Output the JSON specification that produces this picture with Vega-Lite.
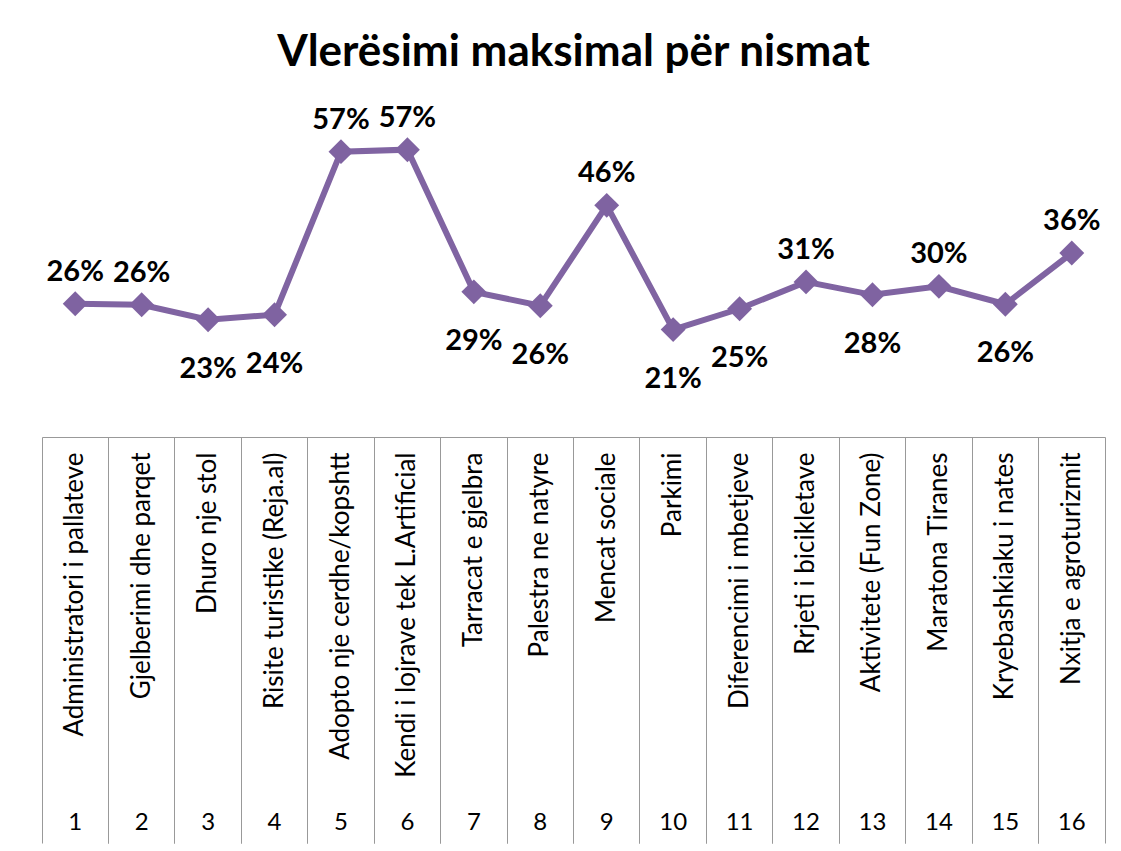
{
  "$schema": "https://vega.github.io/schema/vega-lite/v6.json",
  "padding": {"left": 42, "right": 16, "top": 31, "bottom": 8},
  "background": "white",
  "title": {"text": "Vlerësimi maksimal për nismat", "font": "Lato", "fontSize": 44, "fontWeight": "bold", "color": "#000000", "anchor": "middle", "offset": 21},
  "data": {"values": [
    {"n": 1, "nisma": "Administratori i pallateve", "vlera": 0.262},
    {"n": 2, "nisma": "Gjelberimi dhe parqet", "vlera": 0.260},
    {"n": 3, "nisma": "Dhuro nje stol", "vlera": 0.230},
    {"n": 4, "nisma": "Risite turistike (Reja.al)", "vlera": 0.240},
    {"n": 5, "nisma": "Adopto nje cerdhe/kopshtt", "vlera": 0.568},
    {"n": 6, "nisma": "Kendi i lojrave tek L.Artificial", "vlera": 0.572},
    {"n": 7, "nisma": "Tarracat e gjelbra", "vlera": 0.286},
    {"n": 8, "nisma": "Palestra ne natyre", "vlera": 0.258},
    {"n": 9, "nisma": "Mencat sociale", "vlera": 0.460},
    {"n": 10, "nisma": "Parkimi", "vlera": 0.210},
    {"n": 11, "nisma": "Diferencimi i mbetjeve", "vlera": 0.252},
    {"n": 12, "nisma": "Rrjeti i bicikletave", "vlera": 0.306},
    {"n": 13, "nisma": "Aktivitete (Fun Zone)", "vlera": 0.280},
    {"n": 14, "nisma": "Maratona Tiranes", "vlera": 0.297},
    {"n": 15, "nisma": "Kryebashkiaku i nates", "vlera": 0.261},
    {"n": 16, "nisma": "Nxitja e agroturizmit", "vlera": 0.364}
  ]},
  "spacing": 3,
  "resolve": {"scale": {"x": "independent", "y": "independent"}},
  "vconcat": [
    {
      "width": 1063,
      "height": 338,
      "encoding": {
        "x": {"field": "nisma", "type": "nominal", "sort": null, "scale": {"type": "point", "padding": 0.5}, "axis": null},
        "y": {"field": "vlera", "type": "quantitative", "scale": {"domain": [0, 0.68], "nice": false, "zero": true}, "axis": null}
      },
      "layer": [
        {"mark": {"type": "line", "color": "#8064A2", "strokeWidth": 6}},
        {"mark": {"type": "point", "shape": "diamond", "filled": true, "size": 620, "color": "#7F63A1", "opacity": 1}},
        {
          "transform": [{"filter": "indexof([1,2,5,6,9,12,14,16], datum.n) >= 0"}],
          "mark": {"type": "text", "dy": -32, "font": "Lato", "fontSize": 29, "fontWeight": "bold", "color": "#000000"},
          "encoding": {"text": {"field": "vlera", "type": "quantitative", "format": ".0%"}}
        },
        {
          "transform": [{"filter": "indexof([1,2,5,6,9,12,14,16], datum.n) < 0"}],
          "mark": {"type": "text", "dy": 49, "font": "Lato", "fontSize": 29, "fontWeight": "bold", "color": "#000000"},
          "encoding": {"text": {"field": "vlera", "type": "quantitative", "format": ".0%"}}
        }
      ]
    },
    {
      "width": 1063,
      "height": 406,
      "encoding": {
        "y": {"field": "vlera", "type": "quantitative", "axis": null}
      },
      "layer": [
        {
          "mark": {"type": "point", "opacity": 0},
          "encoding": {
            "x": {"field": "nisma", "type": "nominal", "sort": null,
              "scale": {"type": "band", "paddingInner": 0, "paddingOuter": 0},
              "axis": {"orient": "top", "title": null, "labelAngle": 270, "labelAlign": "right", "labelBaseline": "middle", "labelPadding": -15, "labelLimit": 500, "labelOverlap": false, "labelFont": "Lato", "labelFontSize": 26, "labelColor": "#000000", "ticks": false, "domain": true, "domainColor": "#999999", "domainWidth": 1, "grid": true, "gridColor": "#999999", "gridWidth": 1, "gridOpacity": 1, "bandPosition": 0}
            }
          }
        },
        {
          "mark": {"type": "point", "opacity": 0},
          "encoding": {
            "x": {"field": "n", "type": "ordinal",
              "scale": {"type": "band", "paddingInner": 0, "paddingOuter": 0},
              "axis": {"orient": "bottom", "title": null, "labelAngle": 0, "labelAlign": "center", "labelBaseline": "middle", "labelPadding": -21, "labelOverlap": false, "labelFont": "Lato", "labelFontSize": 24, "labelColor": "#000000", "ticks": false, "domain": false, "grid": true, "gridColor": "#999999", "gridWidth": 1, "gridOpacity": 1, "bandPosition": 1}
            }
          }
        }
      ],
      "resolve": {"scale": {"x": "independent"}, "axis": {"x": "independent"}}
    }
  ],
  "config": {"view": {"stroke": null}, "font": "Lato"}
}
